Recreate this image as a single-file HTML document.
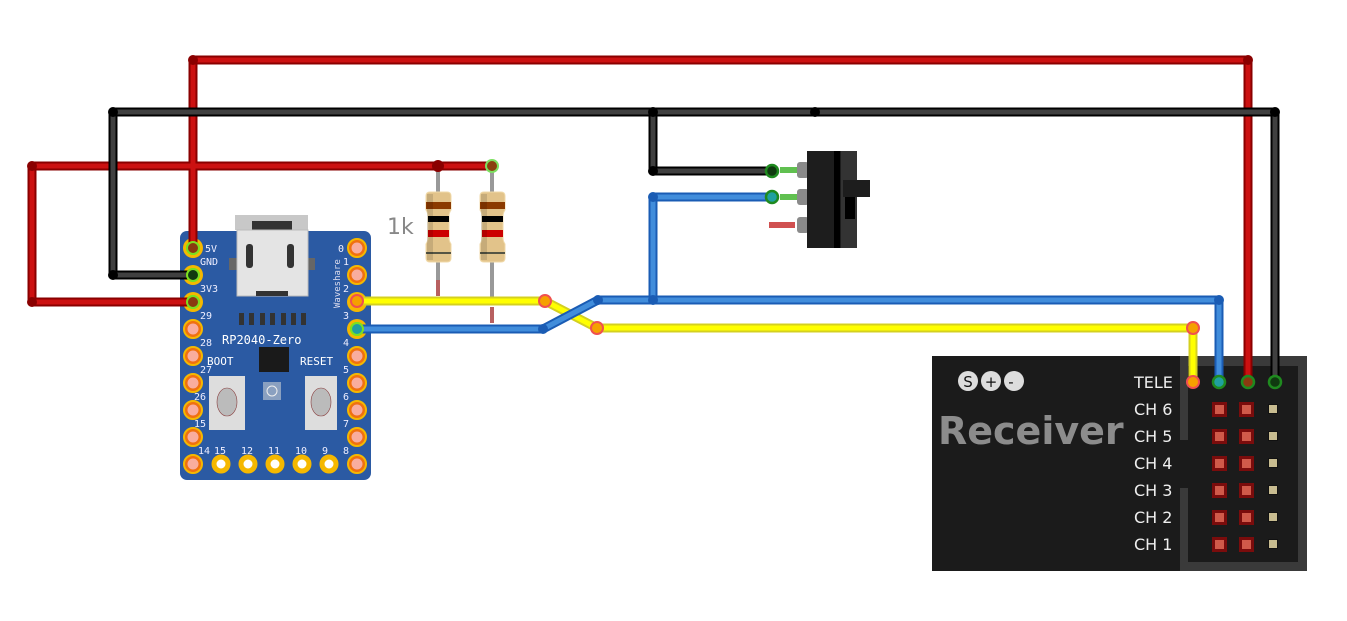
<!DOCTYPE html>
<html><head><meta charset="utf-8"><style>
html,body{margin:0;padding:0;background:#fff;}
svg{display:block;}
</style></head><body>
<svg width="1347" height="621" viewBox="0 0 1347 621" xmlns="http://www.w3.org/2000/svg">
<!-- Receiver -->
<rect x="932" y="356" width="375" height="215" fill="#1b1b1b"/>
<rect x="1180" y="356" width="127" height="215" fill="#3a3a3a"/>
<rect x="1188" y="366" width="110" height="196" fill="#1b1b1b"/>
<rect x="1180" y="440" width="8" height="48" fill="#1b1b1b"/>
<g font-family="DejaVu Sans, sans-serif">
<circle cx="968" cy="381" r="10" fill="#ddd"/><text x="968" y="387" font-size="15" text-anchor="middle" fill="#111">S</text>
<circle cx="991" cy="381" r="10" fill="#ddd"/><text x="991" y="387" font-size="15" text-anchor="middle" fill="#111">+</text>
<circle cx="1014" cy="381" r="10" fill="#ddd"/><text x="1011" y="387" font-size="15" text-anchor="middle" fill="#111">-</text>
<text x="938" y="444" font-size="38" font-weight="bold" fill="#8c8c8c">Receiver</text>
<g font-size="16" fill="#eee">
<text x="1134" y="388">TELE</text><text x="1134" y="415">CH 6</text><text x="1134" y="442">CH 5</text><text x="1134" y="469">CH 4</text><text x="1134" y="496">CH 3</text><text x="1134" y="523">CH 2</text><text x="1134" y="550">CH 1</text>
</g>
</g>
<g>
<g id="rw">
<rect x="1212" y="402" width="15" height="15" fill="#7a0c0c"/><rect x="1215" y="405" width="9" height="9" fill="#d05a4a"/>
<rect x="1239" y="402" width="15" height="15" fill="#7a0c0c"/><rect x="1242" y="405" width="9" height="9" fill="#d05a4a"/>
<rect x="1268" y="404" width="10" height="10" fill="#111"/><rect x="1269" y="405" width="8" height="8" fill="#c8bc90"/>
</g>
<use href="#rw" y="27"/><use href="#rw" y="54"/><use href="#rw" y="81"/><use href="#rw" y="108"/><use href="#rw" y="135"/>
</g>

<!-- Board -->
<rect x="180" y="231" width="191" height="249" rx="7" fill="#2b5aa3"/>
<rect x="229" y="258" width="10" height="12" fill="#666"/><rect x="305" y="258" width="10" height="12" fill="#666"/>
<rect x="235" y="215" width="73" height="15" fill="#c8c8c8"/>
<rect x="252" y="221" width="40" height="9" fill="#333"/>
<rect x="237" y="230" width="71" height="66" fill="#e4e4e4" stroke="#bbb"/>
<rect x="246" y="244" width="7" height="24" rx="3" fill="#333"/><rect x="287" y="244" width="7" height="24" rx="3" fill="#333"/>
<rect x="256" y="291" width="32" height="5" fill="#333"/>
<g fill="#333"><rect x="239" y="313" width="5" height="12"/><rect x="249" y="313" width="5" height="12"/><rect x="260" y="313" width="5" height="12"/><rect x="270" y="313" width="5" height="12"/><rect x="281" y="313" width="5" height="12"/><rect x="291" y="313" width="5" height="12"/><rect x="301" y="313" width="5" height="12"/></g>
<g font-family="DejaVu Sans Mono, Liberation Mono, monospace">
<text x="222" y="344" font-size="12" fill="#fff">RP2040-Zero</text>
<text x="207" y="365" font-size="11" fill="#fff">BOOT</text><text x="300" y="365" font-size="11" fill="#fff">RESET</text>
<text x="340" y="308" font-size="9" fill="#dde" transform="rotate(-90 340 308)">Waveshare</text>
<g font-size="10" fill="#eef">
<text x="205" y="252">5V</text><text x="200" y="265">GND</text><text x="200" y="292">3V3</text><text x="200" y="319">29</text><text x="200" y="346">28</text><text x="200" y="373">27</text><text x="194" y="400">26</text><text x="194" y="427">15</text><text x="198" y="454">14</text><text x="214" y="454">15</text><text x="241" y="454">12</text><text x="268" y="454">11</text><text x="295" y="454">10</text><text x="322" y="454">9</text>
<text x="338" y="252">0</text><text x="343" y="265">1</text><text x="343" y="292">2</text><text x="343" y="319">3</text><text x="343" y="346">4</text><text x="343" y="373">5</text><text x="343" y="400">6</text><text x="343" y="427">7</text><text x="343" y="454">8</text>
</g>
</g>
<rect x="259" y="347" width="30" height="25" fill="#1a1a1a"/>
<rect x="263" y="382" width="18" height="18" fill="#8aa0c0"/><circle cx="272" cy="391" r="5" fill="none" stroke="#eee"/>
<rect x="209" y="376" width="36" height="54" fill="#ddd"/><ellipse cx="227" cy="402" rx="10" ry="14" fill="#bbb" stroke="#8a4040" stroke-width="0.6"/>
<rect x="305" y="376" width="32" height="54" fill="#ddd"/><ellipse cx="321" cy="402" rx="10" ry="14" fill="#bbb" stroke="#8a4040" stroke-width="0.6"/>
<g fill="#f9ad9e" stroke="#f07010" stroke-width="3">
<circle cx="193" cy="329" r="7"/><circle cx="193" cy="356" r="7"/><circle cx="193" cy="383" r="7"/><circle cx="193" cy="410" r="7"/><circle cx="193" cy="437" r="7"/><circle cx="193" cy="464" r="7"/>
<circle cx="357" cy="248" r="7"/><circle cx="357" cy="275" r="7"/><circle cx="357" cy="356" r="7"/><circle cx="357" cy="383" r="7"/><circle cx="357" cy="410" r="7"/><circle cx="357" cy="437" r="7"/><circle cx="357" cy="464" r="7"/>
</g>
<g fill="none" stroke="#f5b800" stroke-width="2"><circle cx="193" cy="329" r="9"/><circle cx="193" cy="356" r="9"/><circle cx="193" cy="383" r="9"/><circle cx="193" cy="410" r="9"/><circle cx="193" cy="437" r="9"/><circle cx="193" cy="464" r="9"/><circle cx="357" cy="248" r="9"/><circle cx="357" cy="275" r="9"/><circle cx="357" cy="356" r="9"/><circle cx="357" cy="383" r="9"/><circle cx="357" cy="410" r="9"/><circle cx="357" cy="437" r="9"/><circle cx="357" cy="464" r="9"/></g>
<g fill="#fff" stroke="#f5b800" stroke-width="5"><circle cx="221" cy="464" r="7"/><circle cx="248" cy="464" r="7"/><circle cx="275" cy="464" r="7"/><circle cx="302" cy="464" r="7"/><circle cx="329" cy="464" r="7"/></g>
<g fill="#f5b800"><circle cx="193" cy="248" r="10"/><circle cx="193" cy="275" r="10"/><circle cx="193" cy="302" r="10"/><circle cx="357" cy="302" r="10"/><circle cx="357" cy="329" r="10"/></g>
<g fill="#7ce020"><circle cx="193" cy="248" r="7"/><circle cx="193" cy="275" r="7"/><circle cx="193" cy="302" r="7"/><circle cx="357" cy="329" r="7"/></g>

<!-- Resistors -->
<g stroke-width="4">
<line x1="438" y1="166" x2="438" y2="280" stroke="#999"/><line x1="438" y1="280" x2="438" y2="296" stroke="#b86060"/>
<line x1="492" y1="166" x2="492" y2="300" stroke="#999"/><line x1="492" y1="307" x2="492" y2="323" stroke="#b86060"/>
</g>
<g id="res">
<path d="M426,196 q0,-4 4,-4 h17 q4,0 4,4 v14 q-2,3 -2,6 v22 q0,3 2,6 v14 q0,4 -4,4 h-17 q-4,0 -4,-4 v-14 q2,-3 2,-6 v-22 q0,-3 -2,-6z" fill="#e2c38a" stroke="#f0d9a8"/>
<rect x="426" y="202" width="25" height="7" fill="#8b3a00"/>
<rect x="428" y="216" width="21" height="6" fill="#000"/>
<rect x="428" y="230" width="21" height="7" fill="#cc0000"/>
<rect x="426" y="252" width="25" height="2" fill="#554"/>
<rect x="427" y="194" width="6" height="66" fill="#000" opacity="0.12"/>
</g>
<use href="#res" x="54"/>
<text x="387" y="234" font-size="22" fill="#888" font-family="DejaVu Sans, sans-serif">1k</text>

<!-- Switch -->
<g stroke-width="6"><line x1="780" y1="170" x2="800" y2="170" stroke="#60c050"/><line x1="780" y1="197" x2="800" y2="197" stroke="#60c050"/><line x1="769" y1="225" x2="795" y2="225" stroke="#d05050"/></g>
<g fill="#8a8a8a"><rect x="797" y="162" width="12" height="16" rx="3"/><rect x="797" y="189" width="12" height="16" rx="3"/><rect x="797" y="217" width="12" height="16" rx="3"/></g>
<rect x="807" y="151" width="50" height="97" fill="#1d1d1d"/><rect x="834" y="151" width="6" height="97" fill="#000"/>
<rect x="841" y="151" width="16" height="97" fill="#333"/>
<rect x="843" y="180" width="27" height="17" fill="#1d1d1d"/><rect x="845" y="197" width="10" height="22" fill="#000"/>

<!-- Wires -->
<g fill="none" stroke-linejoin="round" stroke-linecap="round">
<g stroke="#8a0000" stroke-width="9"><path d="M193,248 V60 H1248 V382"/><path d="M193,302 H32 V166 H492"/></g>
<g stroke="#cc1111" stroke-width="5"><path d="M193,248 V60 H1248 V382"/><path d="M193,302 H32 V166 H492"/></g>
<g stroke="#000" stroke-width="9"><path d="M193,275 H113 V112 H1275 V382"/><path d="M653,112 V171 H772"/></g>
<g stroke="#404040" stroke-width="5"><path d="M193,275 H113 V112 H1275 V382"/><path d="M653,112 V171 H772"/></g>
<g stroke="#d4d020" stroke-width="9"><path d="M357,301 H545 L597,328 H1193 V382"/></g>
<g stroke="#ffff00" stroke-width="5"><path d="M357,301 H545 L597,328 H1193 V382"/></g>
<g stroke="#1a5cb4" stroke-width="9"><path d="M357,329 H543 L598,300 H1219 V382"/><path d="M653,300 V197 H772"/></g>
<g stroke="#418ddb" stroke-width="5"><path d="M357,329 H543 L598,300 H1219 V382"/><path d="M653,300 V197 H772"/></g>
</g>
<g fill="#000"><circle cx="113" cy="112" r="5"/><circle cx="113" cy="275" r="5"/><circle cx="653" cy="112" r="5"/><circle cx="815" cy="112" r="5"/><circle cx="653" cy="171" r="5"/></g>
<g fill="#8a0000"><circle cx="193" cy="60" r="5"/><circle cx="1248" cy="60" r="5"/><circle cx="32" cy="166" r="5"/><circle cx="32" cy="302" r="5"/><circle cx="438" cy="166" r="6"/></g>
<circle cx="1275" cy="112" r="5" fill="#000"/>
<g fill="#1a5cb4"><circle cx="653" cy="197" r="5"/><circle cx="653" cy="300" r="5"/><circle cx="543" cy="329" r="5"/><circle cx="598" cy="300" r="5"/><circle cx="1219" cy="300" r="5"/></g>
<g fill="#f5a000" stroke="#f05050" stroke-width="2"><circle cx="545" cy="301" r="6"/><circle cx="597" cy="328" r="6"/><circle cx="1193" cy="328" r="6"/><circle cx="1193" cy="382" r="6"/><circle cx="357" cy="301" r="6"/></g>
<circle cx="492" cy="166" r="6" fill="#8a4010" stroke="#7ce060" stroke-width="2"/>
<g stroke="#1f8a1f" stroke-width="2.5"><circle cx="1219" cy="382" r="6" fill="#20a0a0"/><circle cx="1248" cy="382" r="6" fill="#8a3a10"/><circle cx="1275" cy="382" r="6" fill="#103a10"/><circle cx="772" cy="171" r="6" fill="#103a10"/><circle cx="772" cy="197" r="6" fill="#20a0a0"/></g>
<g stroke="#7ce020" stroke-width="2"><circle cx="193" cy="248" r="6" fill="#8a3a10"/><circle cx="193" cy="275" r="6" fill="#103a10"/><circle cx="193" cy="302" r="6" fill="#8a3a10"/><circle cx="357" cy="329" r="6" fill="#20a0a0"/></g>
</svg>
</body></html>
